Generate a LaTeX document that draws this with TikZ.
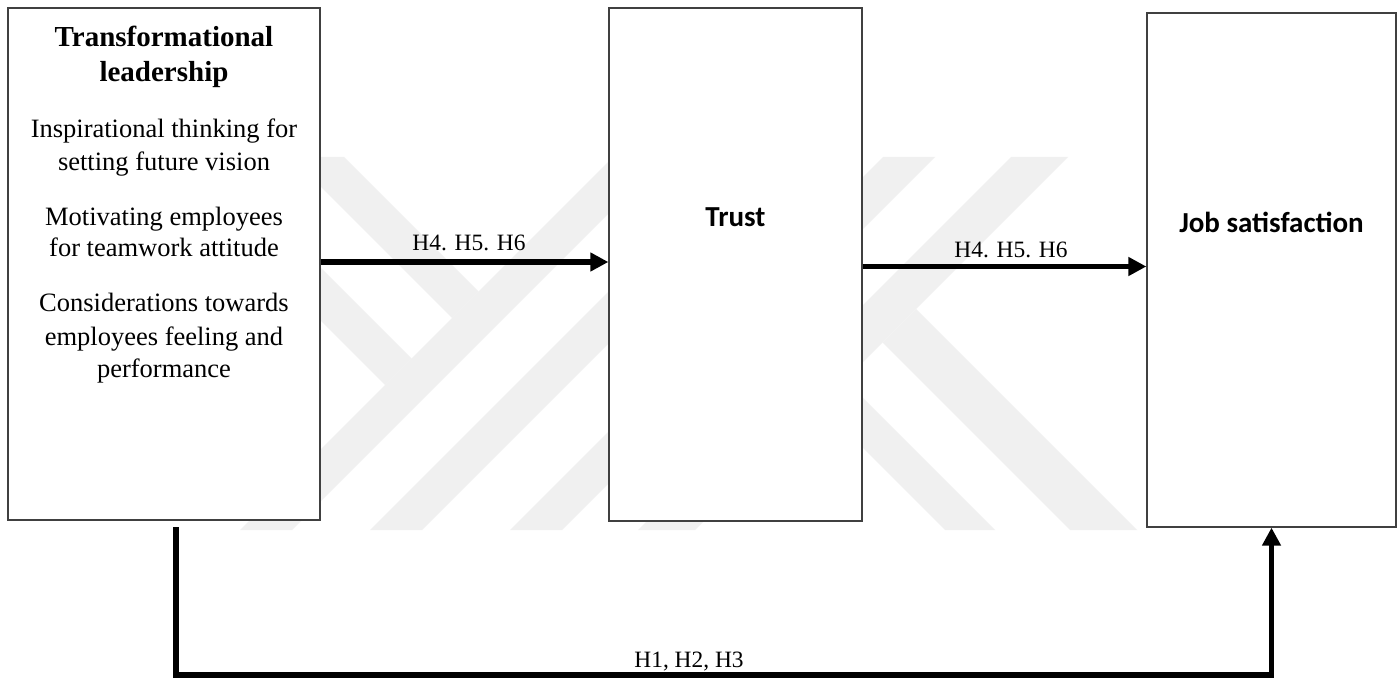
\documentclass[tikz,border=0pt]{standalone}
\usepackage{fontspec}
\setmainfont{Liberation Serif}
\newfontfamily\calibfont{Carlito}
\usetikzlibrary{arrows.meta}
\definecolor{wm}{RGB}{240,240,240}
\definecolor{boxline}{RGB}{64,64,64}
\begin{document}
\begin{tikzpicture}[x=0.5pt,y=-0.5pt,
  box/.style={draw=boxline, line width=0.65pt, fill=white, inner sep=0pt},
  conn/.style={line width=2.6pt, -{Triangle[length=9pt,width=9pt]}},
  lt/.style={anchor=base, inner sep=0pt, font=\fontsize{13.25}{16}\selectfont},
  ttl/.style={anchor=base, inner sep=0pt, font=\fontsize{14.5}{17.5}\selectfont\bfseries},
  cb/.style={anchor=base, inner sep=0pt, font=\fontsize{14.5}{17.5}\selectfont\calibfont\bfseries},
  hlab/.style={anchor=base, inner sep=0pt, font=\fontsize{11.7}{14}\selectfont}]
\useasboundingbox (0,0) rectangle (1400,679);
\fill[white] (0,0) rectangle (1400,679);
% faint watermark stripes
\fill[wm] (613,157) -- (665,157) -- (292,530) -- (240,530) -- cycle;
\fill[wm] (743,157) -- (795,157) -- (422,530) -- (370,530) -- cycle;
\fill[wm] (883,157) -- (935,157) -- (562,530) -- (510,530) -- cycle;
\fill[wm] (1011,157) -- (1068,157) -- (695,530) -- (638,530) -- cycle;
\fill[wm] (291,157) -- (344,157) -- (478.5,291.5) -- (452,318) -- cycle;
\fill[wm] (157,157) -- (210,157) -- (411.5,358.5) -- (385,385) -- cycle;
\fill[wm] (916,309) -- (1137,530) -- (1070,530) -- (882.5,342.5) -- cycle;
\fill[wm] (845,380) -- (995,530) -- (945,530) -- (820,405) -- cycle;
% boxes
\node[box, minimum width=156pt, minimum height=256pt] (tl) at (164,264) {};
\node[box, minimum width=126.5pt, minimum height=256.5pt] (trust) at (735.5,264.5) {};
\node[box, minimum width=124.5pt, minimum height=257pt] (job) at (1271.5,270) {};
% texts of the left box
\node[ttl] (t1) at (164,46.2) {Transformational};
\node[ttl] (t2) at (164,81.7) {leadership};
\node[lt] (a1) at (164,137.5) {Inspirational thinking for};
\node[lt] (a2) at (164,170) {setting future vision};
\node[lt] (b1) at (164,225.7) {Motivating employees};
\node[lt] (b2) at (164,256.1) {for teamwork attitude};
\node[lt] (c1) at (164,311.9) {Considerations towards};
\node[lt] (c2) at (164,345.4) {employees feeling and};
\node[lt] (c3) at (164,377.8) {performance};
\node[cb] (trusttext) at (735.5,227) {Trust};
\node[cb] (jobtext) at (1271.5,232) {Job satisfaction};
% connectors
\coordinate (ya) at (0,262);
\coordinate (yb) at (0,266.5);
\draw[conn] (tl.east |- ya) -- (trust.west |- ya);
\draw[conn] (trust.east |- yb) -- (job.west |- yb);
\coordinate (s) at (176,527);
\coordinate (bot) at (0,675);
\draw[conn] (s) -- (s |- bot) -| (job.south);
% labels
\node[hlab] (l1) at (469,250) {H4. H5. H6};
\node[hlab] (l2) at (1011,257) {H4. H5. H6};
\node[hlab] (l3) at (689,667) {H1, H2, H3};
\end{tikzpicture}
\end{document}
